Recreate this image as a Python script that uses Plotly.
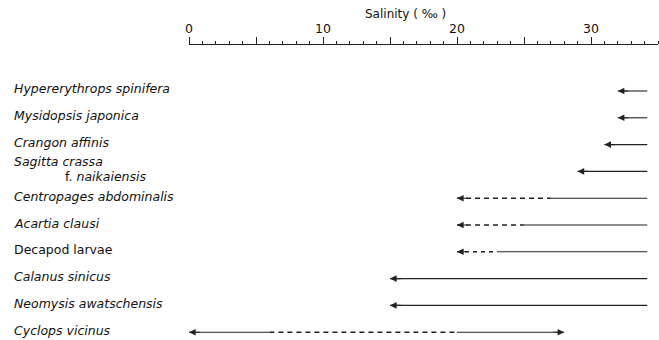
import plotly.graph_objects as go

# ---- data ----
species = ["Hypererythrops spinifera", "Mysidopsis japonica", "Crangon affinis",
           "Sagitta crassa f. naikaiensis", "Centropages abdominalis", "Acartia clausi",
           "Decapod larvae", "Calanus sinicus", "Neomysis awatschensis", "Cyclops vicinus"]
label_html = ["<i>Hypererythrops spinifera</i>", "<i>Mysidopsis japonica</i>", "<i>Crangon affinis</i>",
              "<i>Sagitta crassa</i>", "<i>Centropages abdominalis</i>", "<i>Acartia clausi</i>",
              "Decapod larvae", "<i>Calanus sinicus</i>", "<i>Neomysis awatschensis</i>", "<i>Cyclops vicinus</i>"]
sub_label = "f. <i>naikaiensis</i>"

# segments: (row index, from, to, style)
seg_row = [0, 1, 2, 3, 4, 4, 5, 5, 6, 6, 7, 8, 9, 9, 9]
seg_from = [32, 32, 31, 29, 20, 27, 20, 25, 20, 23, 15, 15, 0, 6, 20]
seg_to = [34.2, 34.2, 34.2, 34.2, 27, 34.2, 25, 34.2, 23, 34.2, 34.2, 34.2, 6, 20, 28]
seg_style = ["solid", "solid", "solid", "solid", "dash", "solid", "dash", "solid", "dash2",
             "solid", "solid", "solid", "solid", "dash", "solid"]

# arrow heads: (row, salinity, direction)
head_row = [0, 1, 2, 3, 4, 5, 6, 7, 8, 9, 9]
head_x = [32, 32, 31, 29, 20, 20, 20, 15, 15, 0, 28]
head_dir = [-1, -1, -1, -1, -1, -1, -1, -1, -1, -1, 1]

tick_vals = [0, 5, 10, 15, 20, 25, 30]
tick_text = ["0", "", "10", "", "20", "", "30"]

LINE = "#222222"
dash_map = {"solid": "solid", "dash": "5px,4px", "dash2": "4px,4px"}
width_map = {"solid": 1.1, "dash": 1.5, "dash2": 1.5}

fig = go.Figure()
for r, a, b, s in zip(seg_row, seg_from, seg_to, seg_style):
    fig.add_trace(go.Scatter(x=[a, b], y=[r, r], mode="lines",
                             line=dict(color=LINE, width=width_map[s], dash=dash_map[s]),
                             showlegend=False, hoverinfo="skip"))

for r, hx, d in zip(head_row, head_x, head_dir):
    fig.add_annotation(x=hx, y=r, ax=hx - d * 0.9, ay=r, xref="x", yref="y",
                       axref="x", ayref="y", text="", showarrow=True,
                       arrowhead=2, arrowsize=1.2, arrowwidth=1.1, arrowcolor=LINE)

L = 189
label_x = (12 - L) / 469
for i, t in enumerate(label_html):
    ys = 2
    if i == 3:
        ys = 10
    fig.add_annotation(x=label_x, y=i, xref="paper", yref="y", text=t, showarrow=False,
                       xanchor="left", yanchor="middle", yshift=ys,
                       font=dict(family="DejaVu Sans", size=12.5, color="#111"))
fig.add_annotation(x=(63 - L) / 469, y=3, xref="paper", yref="y", text=sub_label,
                   showarrow=False, xanchor="left", yanchor="middle", yshift=-5,
                   font=dict(family="DejaVu Sans", size=12.5, color="#111"))

fig.add_annotation(x=(405 - L) / 469, y=1 + (45 - 14) / 295, xref="paper", yref="paper",
                   text="Salinity ( ‰ )", showarrow=False, xanchor="center", yanchor="middle",
                   font=dict(family="DejaVu Sans", size=12, color="#111"))

fig.update_layout(
    width=659, height=340,
    margin=dict(l=L, r=1, t=45, b=0),
    paper_bgcolor="white", plot_bgcolor="white",
    xaxis=dict(range=[0, 35], side="top", showgrid=False, zeroline=False,
               showline=True, linecolor=LINE, linewidth=1,
               tickmode="array", tickvals=tick_vals, ticktext=tick_text,
               ticks="outside", ticklen=7, tickwidth=1, tickcolor=LINE,
               ticklabelstandoff=-1,
               minor=dict(dtick=1, ticklen=3, tickwidth=1, tickcolor=LINE, ticks="outside"),
               tickfont=dict(family="DejaVu Sans", size=12.5, color="#111")),
    yaxis=dict(range=[9.29, -1.716], visible=False, showgrid=False, zeroline=False),
)

fig.write_html("out.html", config={"displayModeBar": False},
               post_script="document.body.style.margin='0';document.body.style.overflow='hidden';")
